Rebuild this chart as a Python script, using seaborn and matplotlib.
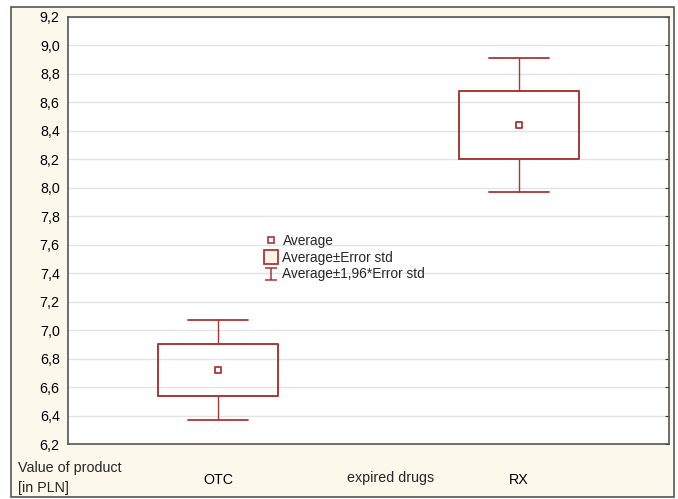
import matplotlib
matplotlib.use("Agg")
import matplotlib.pyplot as plt
from matplotlib.lines import Line2D
from matplotlib.patches import Rectangle
from matplotlib.path import Path
from matplotlib.ticker import FuncFormatter
import numpy as np
import pandas as pd
import seaborn as sns

# ── data ──
groups = ["OTC", "RX"]
means = [6.72, 8.44]
std_err = [0.18, 0.24]
z = 1.96
y_ticks = [6.2, 6.4, 6.6, 6.8, 7.0, 7.2, 7.4, 7.6, 7.8, 8.0, 8.2, 8.4, 8.6, 8.8, 9.0, 9.2]

RED = "#aa3636"
CREAM = "#fdf8ec"
FS = 10.3

df = pd.DataFrame({"group": groups, "mean": means, "se": std_err})
df["pos"] = np.arange(len(df))

sns.set_style("white")
plt.rcParams["font.family"] = ["Liberation Sans", "DejaVu Sans"]

fig = plt.figure(figsize=(6.78, 4.99), dpi=100, facecolor="white")
fig.patches.append(Rectangle((11 / 678, 2 / 499), 663 / 678, 490 / 499,
                             transform=fig.transFigure, facecolor=CREAM,
                             edgecolor="#555555", linewidth=1.2, zorder=-5))
ax = fig.add_axes([68 / 678, 55 / 499, 601 / 678, 427 / 499])
ax.set_zorder(2)
ax.set_facecolor("white")

# boxes (mean ± SE) and whiskers (mean ± 1.96*SE)
stats = []
for _, r in df.iterrows():
    stats.append({"med": r["mean"], "q1": r["mean"] - r["se"], "q3": r["mean"] + r["se"],
                  "whislo": r["mean"] - z * r["se"], "whishi": r["mean"] + z * r["se"],
                  "mean": r["mean"], "label": r["group"]})
ax.bxp(stats, positions=df["pos"], widths=0.4, capwidths=0.2, showfliers=False,
       showmeans=False,
       boxprops=dict(color=RED, linewidth=1.4),
       whiskerprops=dict(color=RED, linewidth=1.0),
       capprops=dict(color=RED, linewidth=1.3),
       medianprops=dict(linewidth=0))

sns.scatterplot(data=df, x="pos", y="mean", marker="s", s=22, facecolor="white",
                edgecolor=RED, linewidth=1.3, ax=ax, zorder=5, legend=False)

# axes styling
ax.set_xlim(-0.5, 1.5)
ax.set_ylim(6.2, 9.2)
ax.set_yticks(y_ticks)
ax.yaxis.set_major_formatter(FuncFormatter(lambda v, _: f"{v:.1f}".replace(".", ",")))
ax.set_xticks(df["pos"])
ax.set_xticklabels(groups)
ax.grid(axis="y", color="#e3e3e3", linewidth=1.0)
ax.set_axisbelow(True)
ax.tick_params(axis="y", direction="in", length=3, right=True, labelsize=FS,
               colors="#333333", labelcolor="black", pad=6)
ax.tick_params(axis="x", direction="in", length=3, labelsize=FS, pad=21,
               colors="#333333", labelcolor="black")
for s in ax.spines.values():
    s.set_color("#555555")
    s.set_linewidth(1.2)
ax.set_xlabel("expired drugs", fontsize=FS)
ax.xaxis.set_label_coords(0.536, -0.08)
ax.xaxis.label.set_va("center")
ax.set_ylabel("")

fig.text(18 / 678, 1 - 478 / 499, "Value of product\n[in PLN]", fontsize=FS,
         ha="left", va="center", linespacing=1.55)

# legend
ibar = Path([(-1, 1), (1, 1), (0, 1), (0, -1), (-1, -1), (1, -1)],
            [Path.MOVETO, Path.LINETO, Path.MOVETO, Path.LINETO, Path.MOVETO, Path.LINETO])
handles = [
    Line2D([], [], linestyle="none", marker="s", markersize=4.5, markerfacecolor="white",
           markeredgecolor=RED, markeredgewidth=1.2),
    Line2D([], [], linestyle="none", marker="s", markersize=10, markerfacecolor="#fdf3e6",
           markeredgecolor=RED, markeredgewidth=1.3),
    Line2D([], [], linestyle="none", marker=ibar, markersize=9, markerfacecolor="none",
           markeredgecolor=RED, markeredgewidth=1.1),
]
labels = ["Average", "Average±Error std", "Average±1,96*Error std"]
ax.legend(handles, labels, loc="upper left", bbox_to_anchor=(0.318, 0.505), frameon=False,
          fontsize=9.9, handlelength=1.0, handletextpad=0.3, labelspacing=0.2,
          borderaxespad=0)

fig.savefig("out.png", dpi=100, facecolor="white")
